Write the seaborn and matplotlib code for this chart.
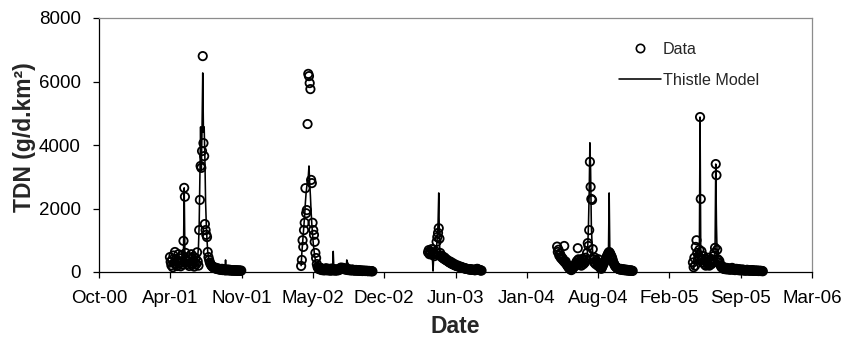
import pandas as pd
import matplotlib
matplotlib.use("Agg")
import matplotlib.pyplot as plt
import matplotlib.dates as mdates
from matplotlib.lines import Line2D
import seaborn as sns

# Monitoring seasons: first sampling day of each season, values every 2 days
season_starts = ["2001-04-18", "2002-04-21", "2003-04-12", "2004-04-08", "2005-04-24"]
step_days = 2

# Observed TDN (g/d.km2)
obs_2001 = [470, 320, 210, 380, 150, 520, 280, 630, 240, 410,
            190, 350, 560, 260, 430, 180, 300, 520, 230, 980,
            2650, 2370, 600, 380, 250, 470, 320, 190, 410, 280,
            560, 220, 350, 480, 170, 300, 430, 250, 620, 330,
            200, 1320, 2270, 3340, 3280, 3810, 6800, 4060, 3650, 1510,
            1320, 1170, 1100, 630, 470, 380, 300, 250, 210, 180,
            160, 140, 150, 120, 110, 130, 100, 90, 110, 80,
            90, 70, 80, 100, 60, 70, 90, 60, 50, 70,
            60, 80, 50, 60, 70, 45, 55, 60, 40, 50,
            60, 45, 40, 55, 50, 35, 45, 50, 40, 35, 45]
obs_2002 = [190, 380, 1000, 790, 1320, 1550, 2640, 1850, 1950, 4660,
            6240, 6170, 5950, 5760, 2900, 2800, 1550, 1320, 1170, 950,
            600, 440, 250, 160, 120, 90, 140, 80, 110, 60,
            100, 70, 50, 90, 60, 120, 80, 50, 70, 100,
            60, 40, 80, 110, 50, 70, 60, 90, 40, 60,
            80, 50, 70, 60, 110, 90, 140, 120, 100, 130,
            90, 110, 80, 100, 70, 90, 60, 80, 70, 50,
            60, 80, 50, 70, 60, 40, 55, 65, 45, 50,
            40, 60, 45, 35, 50, 40, 30, 45, 35, 40,
            30, 35, 40, 30, 25, 35, 30, 25, 30, 25, 20]
obs_2003 = [620, 690, 560, 650, 600, 720, 540, 610, 580, 500,
            560, 640, 950, 1100, 1230, 1380, 1050, 600, 520, 470,
            500, 440, 420, 460, 390, 410, 360, 380, 340, 320,
            300, 330, 280, 260, 290, 240, 230, 250, 210, 200,
            190, 210, 180, 170, 160, 175, 150, 140, 150, 130,
            120, 125, 110, 100, 105, 95, 90, 85, 80, 90,
            75, 70, 80, 65, 70, 60, 55, 70, 90, 100,
            80, 70, 60, 55, 50, 45]
obs_2004 = [800, 630, 700, 520, 580, 450, 480, 400, 420, 350,
            820, 300, 330, 250, 220, 180, 150, 120, 100, 80,
            60, 90, 120, 150, 200, 180, 260, 300, 350, 750,
            400, 300, 250, 350, 200, 300, 420, 250, 350, 300,
            450, 380, 600, 910, 820, 1320, 3470, 2680, 2300, 2270,
            720, 400, 300, 450, 250, 350, 300, 200, 400, 250,
            150, 120, 100, 150, 200, 250, 300, 350, 400, 450,
            500, 550, 600, 630, 600, 550, 500, 450, 380, 300,
            250, 200, 170, 150, 130, 110, 100, 90, 80, 100,
            70, 80, 90, 60, 70, 80, 50, 60, 70, 50,
            45, 55, 40, 50, 45, 40, 35]
obs_2005 = [300, 150, 450, 200, 790, 1000, 600, 400, 500, 700,
            4880, 2300, 650, 400, 300, 500, 250, 350, 200, 400,
            300, 250, 450, 200, 350, 300, 250, 400, 300, 500,
            600, 760, 3400, 3050, 700, 400, 300, 350, 250, 200,
            150, 180, 120, 100, 140, 90, 110, 130, 80, 120,
            100, 90, 70, 110, 80, 130, 100, 70, 90, 60,
            80, 100, 70, 60, 90, 80, 50, 70, 60, 80,
            50, 70, 60, 40, 60, 50, 70, 45, 60, 50,
            40, 55, 45, 60, 40, 50, 35, 45, 40, 35,
            45, 40, 30, 35, 40, 30, 35, 30, 25]

# Thistle model TDN (g/d.km2)
model_2001 = [150, 280, 200, 320, 250, 180, 350, 220, 300, 260,
              200, 380, 250, 300, 220, 330, 260, 200, 310, 600,
              2650, 500, 300, 250, 350, 280, 220, 320, 250, 380,
              300, 620, 280, 350, 230, 300, 260, 330, 400, 500,
              800, 1500, 3000, 4570, 3200, 4500, 6270, 4400, 4570, 3600,
              2200, 1500, 1000, 650, 450, 350, 280, 230, 200, 180,
              160, 150, 140, 130, 120, 110, 105, 100, 95, 90,
              85, 80, 78, 75, 72, 70, 68, 65, 380, 60,
              58, 55, 55, 52, 50, 50, 48, 46, 45, 44,
              42, 40, 40, 38, 38, 36, 35, 35, 34, 33, 32]
model_2002 = [200, 600, 900, 1200, 1500, 1800, 2200, 2500, 2700, 2900,
              3000, 3340, 2800, 2400, 1900, 1500, 1200, 900, 700, 500,
              380, 280, 200, 160, 130, 110, 100, 90, 85, 80,
              250, 80, 75, 70, 70, 65, 200, 65, 60, 60,
              58, 55, 55, 52, 50, 650, 50, 48, 48, 46,
              45, 45, 44, 44, 43, 42, 42, 41, 40, 40,
              40, 40, 39, 38, 380, 300, 260, 230, 210, 190,
              175, 160, 150, 140, 130, 120, 110, 100, 95, 90,
              85, 80, 75, 70, 65, 60, 55, 50, 48, 45,
              42, 40, 38, 36, 34, 32, 30, 28, 26, 25, 24]
model_2003 = [550, 620, 580, 600, 540, 520, 500, 30, 540, 560,
              600, 650, 800, 1100, 1500, 2490, 900, 600, 500, 460,
              440, 420, 400, 390, 370, 360, 340, 330, 310, 300,
              285, 270, 260, 250, 240, 230, 220, 210, 200, 190,
              180, 175, 165, 160, 150, 145, 140, 130, 125, 120,
              115, 110, 105, 100, 95, 90, 88, 85, 80, 78,
              75, 70, 68, 65, 62, 60, 60, 68, 80, 85,
              75, 68, 60, 55, 50, 45]
model_2004 = [600, 500, 550, 450, 480, 380, 400, 320, 350, 300,
              500, 260, 280, 220, 190, 160, 130, 110, 90, 70,
              50, 80, 110, 140, 180, 170, 240, 280, 320, 400,
              350, 280, 230, 300, 200, 280, 350, 240, 320, 280,
              380, 350, 500, 800, 1500, 2500, 4070, 3210, 1500, 900,
              600, 380, 300, 380, 260, 320, 280, 200, 350, 240,
              160, 120, 110, 150, 190, 240, 290, 330, 380, 420,
              470, 520, 560, 2490, 570, 520, 470, 420, 360, 290,
              240, 200, 170, 150, 130, 115, 100, 90, 85, 80,
              75, 72, 70, 68, 65, 62, 60, 58, 55, 52,
              50, 48, 46, 44, 42, 40, 38]
model_2005 = [200, 100, 300, 250, 500, 600, 450, 350, 400, 500,
              4880, 600, 450, 380, 300, 350, 250, 300, 220, 300,
              280, 230, 350, 200, 530, 280, 250, 300, 280, 350,
              400, 600, 3400, 1500, 500, 350, 300, 280, 230, 190,
              150, 140, 120, 110, 120, 95, 100, 110, 85, 100,
              90, 85, 75, 95, 80, 160, 90, 75, 80, 65,
              75, 85, 70, 65, 180, 75, 60, 65, 60, 70,
              55, 60, 55, 50, 55, 50, 60, 45, 50, 45,
              42, 45, 40, 45, 38, 40, 35, 38, 35, 32,
              35, 32, 30, 30, 32, 28, 28, 26, 25]

y_ticks = [0, 2000, 4000, 6000, 8000]
x_first_tick = "2000-10-01"
x_tick_count = 11
x_tick_step = "200D"

obs_series = [obs_2001, obs_2002, obs_2003, obs_2004, obs_2005]
model_series = [model_2001, model_2002, model_2003, model_2004, model_2005]

frames = []
for start, obs, mod in zip(season_starts, obs_series, model_series):
    dates = pd.date_range(start, periods=len(obs), freq=f"{step_days}D")
    frames.append(pd.DataFrame({"date": dates, "obs": obs, "model": mod,
                                "season": start[:4]}))
df = pd.concat(frames, ignore_index=True)

sns.set_style("ticks")
plt.rcParams["font.family"] = ["Liberation Sans", "DejaVu Sans"]

fig = plt.figure(figsize=(8.44, 3.42), dpi=100)
ax = fig.add_axes([99 / 844, 1 - 272 / 342, 713 / 844, 254 / 342])

sns.lineplot(data=df, x="date", y="model", units="season", estimator=None,
             color="black", linewidth=1.15, ax=ax, legend=False, zorder=2)
sns.scatterplot(data=df, x="date", y="obs", marker="o", s=36,
                facecolor="none", edgecolor="black", linewidth=1.3,
                ax=ax, legend=False, zorder=3, clip_on=False)

xticks = pd.date_range(x_first_tick, periods=x_tick_count, freq=x_tick_step)
ax.set_xlim(xticks[0], xticks[-1])
ax.set_xticks(xticks)
ax.xaxis.set_major_formatter(mdates.DateFormatter("%b-%y"))
ax.set_ylim(y_ticks[0], y_ticks[-1])
ax.set_yticks(y_ticks)

ax.tick_params(axis="both", direction="out", length=4, width=0.9,
               labelsize=13.5, color="black", labelcolor="black")
ax.tick_params(axis="x", pad=9)
ax.tick_params(axis="y", pad=9)

for side in ("left", "bottom"):
    ax.spines[side].set_color("black")
    ax.spines[side].set_linewidth(0.9)
for side in ("top", "right"):
    ax.spines[side].set_visible(True)
    ax.spines[side].set_color("#8c8c8c")
    ax.spines[side].set_linewidth(0.9)

ax.set_xlabel("Date", fontsize=16.5, fontweight="bold")
ax.set_ylabel("TDN (g/d.km²)", fontsize=16.5, fontweight="bold")
ax.xaxis.set_label_coords(0.5, -0.17)
ax.yaxis.set_label_coords(-0.088, 0.53)

handles = [Line2D([], [], marker="o", linestyle="none", markerfacecolor="none",
                  markeredgecolor="black", markersize=6, markeredgewidth=1.2),
           Line2D([], [], color="black", linewidth=1.15)]
ax.legend(handles, ["Data", "Thistle Model"], loc="upper left",
          bbox_to_anchor=(0.729, 0.906), frameon=False, fontsize=11.6,
          handlelength=2.6, handletextpad=0.15, labelspacing=1.0,
          borderpad=0, borderaxespad=0)

fig.savefig("out.png", dpi=100)
